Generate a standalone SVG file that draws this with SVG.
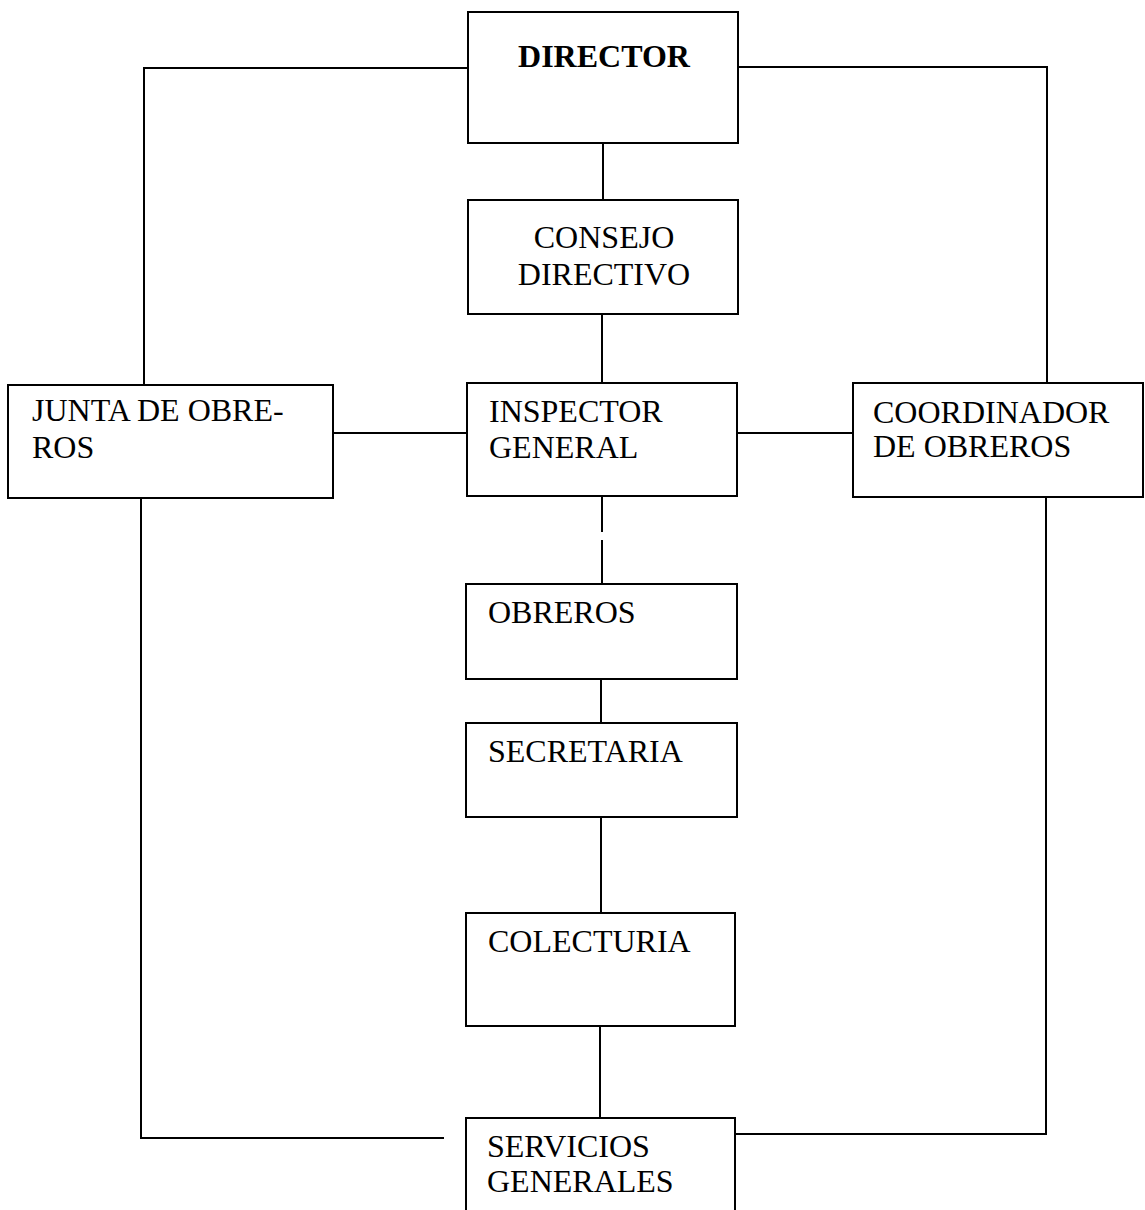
<svg xmlns="http://www.w3.org/2000/svg" width="1145" height="1210" viewBox="0 0 1145 1210">
<style>
.box{fill:#fff;stroke:#000;stroke-width:2}
.ln{fill:none;stroke:#000;stroke-width:2}
text{font-family:'Liberation Serif','DejaVu Serif',serif;font-size:32px;fill:#000}
.b{font-weight:bold}
</style>
<rect width="1145" height="1210" fill="#fff"/>
<g id="connectors">
<polyline class="ln" points="468,68 144,68 144,385"/>
<polyline class="ln" points="738,67 1047,67 1047,383"/>
<line class="ln" x1="603" y1="143" x2="603" y2="200"/>
<line class="ln" x1="602" y1="314" x2="602" y2="383"/>
<line class="ln" x1="333" y1="433" x2="467" y2="433"/>
<line class="ln" x1="737" y1="433" x2="853" y2="433"/>
<line class="ln" x1="602" y1="490" x2="602" y2="532"/>
<line class="ln" x1="602" y1="540" x2="602" y2="584"/>
<line class="ln" x1="601" y1="679" x2="601" y2="735"/>
<line class="ln" x1="601" y1="817" x2="601" y2="913"/>
<line class="ln" x1="600" y1="1026" x2="600" y2="1118"/>
<polyline class="ln" points="141,498 141,1138 444,1138"/>
<polyline class="ln" points="1046,497 1046,1134 735,1134"/>
</g>
<g id="director">
<rect class="box" x="468" y="12" width="270" height="131"/>
<text class="b" x="604" y="67" text-anchor="middle">DIRECTOR</text>
</g>
<g id="consejo">
<rect class="box" x="468" y="200" width="270" height="114"/>
<text x="604" y="248" text-anchor="middle">CONSEJO</text>
<text x="604" y="285" text-anchor="middle">DIRECTIVO</text>
</g>
<g id="junta">
<rect class="box" x="8" y="385" width="325" height="113"/>
<text x="32" y="421">JUNTA DE OBRE-</text>
<text x="32" y="458">ROS</text>
</g>
<g id="inspector">
<rect class="box" x="467" y="383" width="270" height="113"/>
<text x="489" y="422">INSPECTOR</text>
<text x="489" y="458">GENERAL</text>
</g>
<g id="coordinador">
<rect class="box" x="853" y="383" width="290" height="114"/>
<text x="873" y="423">COORDINADOR</text>
<text x="873" y="457">DE OBREROS</text>
</g>
<g id="obreros">
<rect class="box" x="466" y="584" width="271" height="95"/>
<text x="488" y="623">OBREROS</text>
</g>
<g id="secretaria">
<rect class="box" x="466" y="723" width="271" height="94"/>
<text x="488" y="762">SECRETARIA</text>
</g>
<g id="colecturia">
<rect class="box" x="466" y="913" width="269" height="113"/>
<text x="488" y="952">COLECTURIA</text>
</g>
<g id="servicios">
<rect class="box" x="466" y="1118" width="269" height="110"/>
<text x="487" y="1157">SERVICIOS</text>
<text x="487" y="1192">GENERALES</text>
</g>
</svg>
